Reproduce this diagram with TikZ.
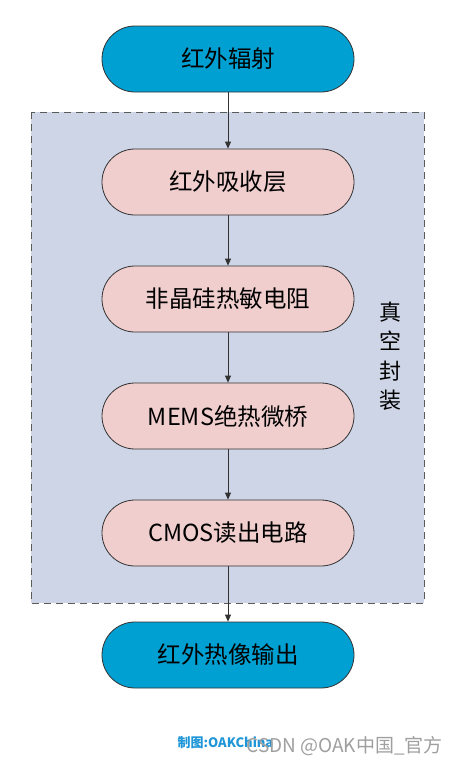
\documentclass[tikz,border=0pt]{standalone}
\usepackage{fontspec}
\setmainfont{Noto Sans CJK SC}
\usetikzlibrary{arrows.meta}
\definecolor{bluefill}{RGB}{0,160,210}
\definecolor{pinkfill}{RGB}{240,206,206}
\definecolor{boxfill}{RGB}{206,213,230}
\definecolor{edge}{RGB}{50,50,50}
\definecolor{markblue}{RGB}{30,150,215}
\begin{document}
\begin{tikzpicture}[x=1pt,y=-1pt,
  pill/.style={draw=edge, line width=0.8pt, rounded corners=33pt, minimum width=252pt, minimum height=66pt, inner sep=0pt, font=\fontsize{23.5}{28}\selectfont},
  bluepill/.style={pill, fill=bluefill},
  pinkpill/.style={pill, fill=pinkfill},
  flow/.style={draw=edge, line width=0.8pt, -{Triangle[length=7pt,width=6pt]}},
  vacbox/.style={draw=edge!80, fill=boxfill, dashed, dash pattern=on 7pt off 5pt, line width=0.8pt}
]
\useasboundingbox (0,0) rectangle (456,766);
\fill[white] (0,0) rectangle (456,766);
\draw[vacbox] (31,112) rectangle (424,603);
\node[bluepill] (n0) at (228,59) {红外辐射};
\node[pinkpill] (n1) at (228,182) {红外吸收层};
\node[pinkpill] (n2) at (228,299) {非晶硅热敏电阻};
\node[pinkpill] (n3) at (228,416) {MEMS绝热微桥};
\node[pinkpill] (n4) at (228,533) {CMOS读出电路};
\node[bluepill] (n5) at (228,655) {红外热像输出};
\node[align=center, font=\fontsize{22}{29.5}\selectfont] (lab) at (390,356) {真\\空\\封\\装};
\draw[flow] (n0) -- (n1);
\draw[flow] (n1) -- (n2);
\draw[flow] (n2) -- (n3);
\draw[flow] (n3) -- (n4);
\draw[flow] (n4) -- (n5);
\node[anchor=west, text=markblue, font=\bfseries\fontsize{13}{15}\selectfont] (mk) at (174,743) {制图:OAKChina};
\node[anchor=west, text=gray!75, font=\fontsize{19}{21}\selectfont] (wm) at (243,746) {CSDN @OAK中国\_官方};
\end{tikzpicture}
\end{document}
